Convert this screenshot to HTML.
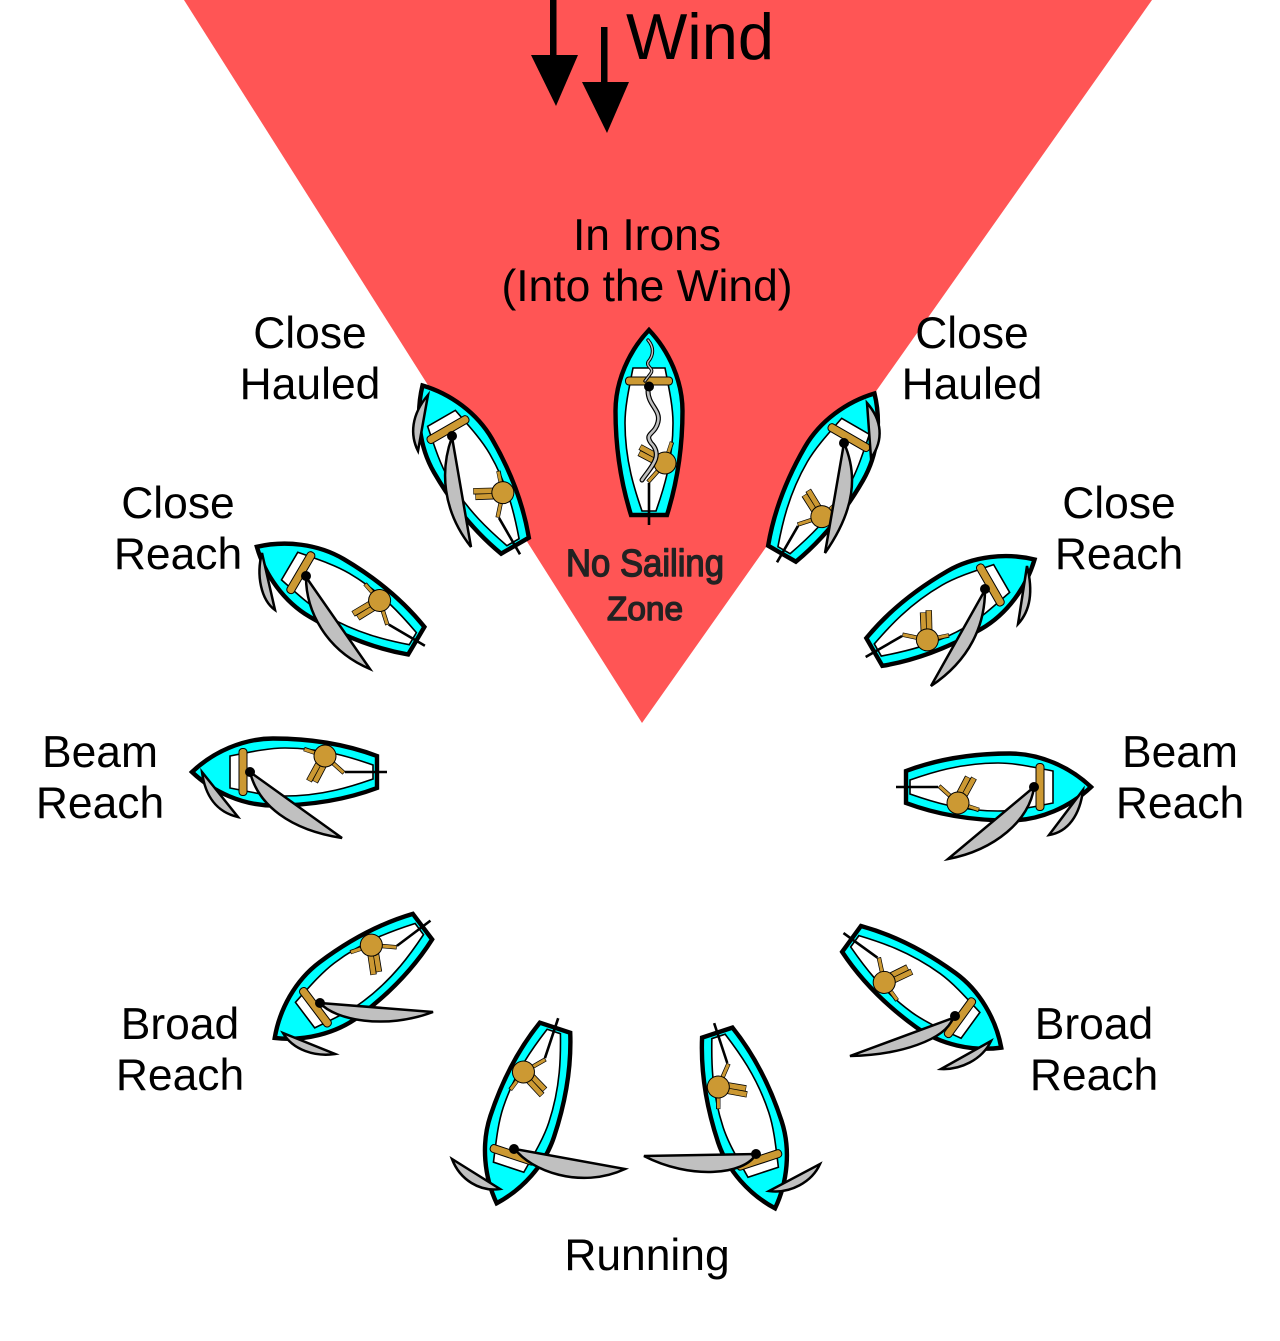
<!DOCTYPE html>
<html lang="en">
<head>
<meta charset="utf-8">
<title>Points of sail</title>
<style>
html,body{margin:0;padding:0;background:#fff;width:1280px;height:1341px;overflow:hidden}
svg{display:block}
text{font-family:"Liberation Sans",sans-serif;font-size:44.4px;fill:#000;text-anchor:middle}
.sail{fill:#c0c0c0;stroke:#000;stroke-width:2.5;stroke-linejoin:miter}
</style>
</head>
<body>
<svg width="1280" height="1341" viewBox="0 0 1280 1341" xmlns="http://www.w3.org/2000/svg">
<defs>
  <g id="inner">
    <path d="M-16,-55 L16,-55 C21,-30 24,-15 24,0 C24,38 14,68 7,88 L-7,88 C-14,68 -24,38 -24,0 C-24,-15 -21,-30 -16,-55Z" fill="#fff" stroke="#000" stroke-width="1.6"/>
    <line x1="0" y1="60" x2="0" y2="102" stroke="#000" stroke-width="2.6"/>
    <rect x="-23.5" y="-46" width="47" height="8" rx="3.5" fill="#cc9933" stroke="#000" stroke-width="1"/>
    <g transform="translate(16,40)">
      <g stroke="#000" stroke-width="6.4">
        <line x1="-3" y1="-4" x2="-25" y2="-16"/>
        <line x1="-5" y1="1" x2="-26" y2="-10"/>
      </g>
      <g stroke="#cc9933" stroke-width="4.8">
        <line x1="-3" y1="-4" x2="-24.5" y2="-15.8"/>
        <line x1="-5" y1="1" x2="-25.5" y2="-9.8"/>
      </g>
      <g stroke="#000" stroke-width="4.4">
        <line x1="0" y1="0" x2="7" y2="-21"/>
        <line x1="0" y1="0" x2="-17" y2="19"/>
      </g>
      <g stroke="#cc9933" stroke-width="3">
        <line x1="0" y1="0" x2="6.6" y2="-20.5"/>
        <line x1="0" y1="0" x2="-16.6" y2="18.5"/>
      </g>
      <circle r="11" fill="#cc9933" stroke="#000" stroke-width="1"/>
    </g>
  </g>
  <g id="boat">
    <path d="M0,-93 C20,-72 33.5,-42 33.5,-12 C33.5,25 28,60 16,92 L-16,92 C-28,60 -33.5,25 -33.5,-12 C-33.5,-42 -20,-72 0,-93Z" fill="#00ffff" stroke="#000" stroke-width="4.4"/>
    <use href="#inner"/>
  </g>
  <g id="boat0">
    <path d="M0,-93 C20,-72 33.5,-42 33.5,-12 C33.5,25 28,60 18,92 L-18,92 C-28,60 -33.5,25 -33.5,-12 C-33.5,-42 -20,-72 0,-93Z" fill="#00ffff" stroke="#000" stroke-width="4.4"/>
    <use href="#inner"/>
  </g>
</defs>

<rect width="1280" height="1341" fill="#fff"/>
<polygon points="184,0 1152,0 642,723" fill="#ff5555"/>

<!-- wind arrows -->
<rect x="550" y="0" width="6.5" height="56" fill="#000"/>
<polygon points="531,55 578,55 556,106" fill="#000"/>
<rect x="601" y="27" width="6.5" height="56" fill="#000"/>
<polygon points="582,82 629,82 607,133" fill="#000"/>
<text x="700" y="59" style="font-size:65px">Wind</text>

<text x="647" y="250">In Irons</text>
<text x="647" y="301">(Into the Wind)</text>
<text x="310" y="348">Close</text><text x="310" y="399">Hauled</text>
<text x="972" y="348">Close</text><text x="972" y="399">Hauled</text>
<text x="178" y="518">Close</text><text x="178" y="569">Reach</text>
<text x="1119" y="518">Close</text><text x="1119" y="569">Reach</text>
<text x="100" y="767">Beam</text><text x="100" y="818">Reach</text>
<text x="1180" y="767">Beam</text><text x="1180" y="818">Reach</text>
<text x="180" y="1039">Broad</text><text x="180" y="1090">Reach</text>
<text x="1094" y="1039">Broad</text><text x="1094" y="1090">Reach</text>
<text x="647" y="1270">Running</text>

<text x="645" y="576" textLength="158" lengthAdjust="spacingAndGlyphs" style="font-size:38px;fill:#222;stroke:#222;stroke-width:1.4;stroke-linejoin:round">No Sailing</text>
<text x="645" y="620" textLength="76" lengthAdjust="spacingAndGlyphs" style="font-size:33px;fill:#222;stroke:#222;stroke-width:1.4;stroke-linejoin:round">Zone</text>

<!-- In irons -->
<use href="#boat0" transform="translate(649,423)"/>
<g fill="none" stroke-linecap="round" stroke-linejoin="round">
  <path d="M648,340 C654,347 654,355 648,362 C646,367 654,368 651,373 L645,381" stroke="#000" stroke-width="3.4"/>
  <path d="M648,340 C654,347 654,355 648,362 C646,367 654,368 651,373 L645,381" stroke="#c0c0c0" stroke-width="1.4"/>
  <path d="M648,391 C648,405 661,410 658,422 C655,435 644,433 651,443 C664,456 650,468 642,480" stroke="#000" stroke-width="5"/>
  <path d="M648,391 C648,405 661,410 658,422 C655,435 644,433 651,443 C664,456 650,468 642,480" stroke="#c0c0c0" stroke-width="2.6"/>
</g>
<circle cx="649" cy="386.5" r="5" fill="#000"/>

<!-- Close hauled L -->
<use href="#boat" transform="translate(469,466) rotate(-30)"/>
<path class="sail" d="M428,395 C411,415 410,435 418,451Z"/>
<path class="sail" d="M452,437 C440,470 442,510 471,547Z"/>
<circle cx="452" cy="436" r="5" fill="#000"/>

<!-- Close hauled R -->
<use href="#boat" transform="translate(828,474) rotate(30)"/>
<path class="sail" d="M867,403 C882,420 884,440 871,458Z"/>
<path class="sail" d="M844,443 C858,475 855,510 825,553Z"/>
<circle cx="844" cy="443" r="5" fill="#000"/>

<!-- Close reach L -->
<use href="#boat" transform="translate(337,594) rotate(-59.5)"/>
<path class="sail" d="M262,553 C256,575 261,600 275,610Z"/>
<path class="sail" d="M306,577 C306,610 325,650 370,669Z"/>
<circle cx="306" cy="576" r="5" fill="#000"/>

<!-- Close reach R -->
<use href="#boat" transform="translate(954,606) rotate(60)"/>
<path class="sail" d="M1027,566 C1033,590 1031,610 1018,624Z"/>
<path class="sail" d="M985,590 C985,625 970,660 931,686Z"/>
<circle cx="985" cy="589" r="5" fill="#000"/>

<!-- Beam L -->
<use href="#boat" transform="translate(285,772) rotate(-90)"/>
<path class="sail" d="M202,772 C205,795 216,812 238,817Z"/>
<path class="sail" d="M250,772 C258,805 290,830 342,838Z"/>
<circle cx="250" cy="772" r="5" fill="#000"/>

<!-- Beam R -->
<use href="#boat" transform="translate(998,787) rotate(90)"/>
<path class="sail" d="M1083,790 C1080,815 1068,832 1049,835Z"/>
<path class="sail" d="M1034,787 C1030,820 995,850 948,859Z"/>
<circle cx="1034" cy="787" r="5" fill="#000"/>

<!-- Broad L -->
<use href="#boat" transform="translate(349,982) rotate(-127)"/>
<path class="sail" d="M283,1033 C293,1050 315,1057 335,1054Z"/>
<path class="sail" d="M320,1003 C335,1020 385,1030 433,1012Z"/>
<circle cx="320" cy="1003" r="5" fill="#000"/>

<!-- Broad R -->
<use href="#boat" transform="translate(926,993) rotate(126)"/>
<path class="sail" d="M991,1041 C982,1060 960,1070 941,1069Z"/>
<path class="sail" d="M953,1018 C945,1040 900,1055 850,1056Z"/>
<circle cx="955" cy="1016" r="5" fill="#000"/>

<!-- Running L -->
<use href="#boat" transform="translate(526,1115) rotate(-161.6)"/>
<path class="sail" d="M452,1159 C460,1180 480,1192 500,1189Z"/>
<path class="sail" d="M515,1149 C530,1170 580,1190 625,1169Z"/>
<circle cx="514" cy="1149" r="5" fill="#000"/>

<!-- Running R -->
<use href="#boat" transform="translate(746,1120) rotate(161.8)"/>
<path class="sail" d="M820,1164 C812,1182 790,1194 769,1191Z"/>
<path class="sail" d="M756,1154 C745,1175 690,1180 644,1156Z"/>
<circle cx="756" cy="1154" r="5" fill="#000"/>
</svg>
</body>
</html>
